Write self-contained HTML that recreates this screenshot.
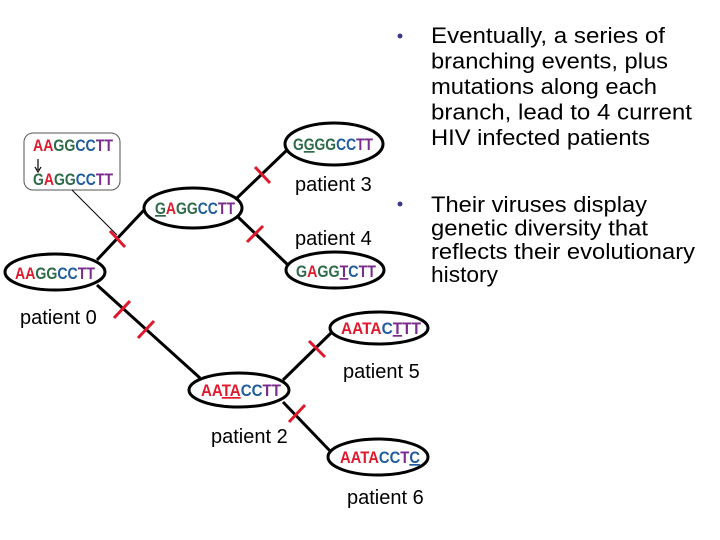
<!DOCTYPE html>
<html><head><meta charset="utf-8"><style>
html,body{margin:0;padding:0;background:#fff;}
svg{display:block;}
.seq{font-family:"Liberation Sans",sans-serif;font-size:17px;font-weight:bold;}
.A{fill:#e0182c}.G{fill:#2d6a48}.C{fill:#1f5d9e}.T{fill:#7a2b8c}
.lbl{font-family:"Liberation Sans",sans-serif;font-size:20px;fill:#000;}
.b{font-family:"Liberation Sans",sans-serif;font-size:22.5px;fill:#000;}
</style></head><body>
<svg width="720" height="540" viewBox="0 0 720 540" xmlns="http://www.w3.org/2000/svg">
<g stroke="#000" stroke-width="3" fill="none">
<line x1="97" y1="260" x2="145" y2="209"/>
<line x1="97" y1="285" x2="200" y2="378"/>
<line x1="237" y1="198" x2="287" y2="150"/>
<line x1="238" y1="217" x2="288" y2="265"/>
<line x1="283" y1="380" x2="332" y2="332"/>
<line x1="283" y1="402" x2="332" y2="453"/>
</g>
<g stroke="#000" stroke-width="3" fill="#fff">
<ellipse cx="55" cy="272" rx="50" ry="18"/>
<ellipse cx="193" cy="208" rx="49" ry="20"/>
<ellipse cx="334" cy="144" rx="49" ry="21"/>
<ellipse cx="335" cy="270" rx="49" ry="18"/>
<ellipse cx="379" cy="328" rx="49" ry="16"/>
<ellipse cx="239" cy="390" rx="50" ry="17"/>
<ellipse cx="378" cy="457" rx="50" ry="18"/>
</g>
<rect x="24" y="133" width="96" height="57" rx="9" fill="#fff" stroke="#555" stroke-width="1"/>
<line x1="72" y1="190" x2="117" y2="235" stroke="#000" stroke-width="1"/>
<line x1="38" y1="159" x2="38" y2="170" stroke="#000" stroke-width="1.2"/>
<path d="M35,167 L38,172 L41,167" fill="none" stroke="#000" stroke-width="1.2"/>
<g stroke="#e0182c" stroke-width="3">
<line x1="110" y1="231" x2="125" y2="247"/>
<line x1="255" y1="167" x2="270" y2="183"/>
<line x1="247" y1="242" x2="263" y2="226"/>
<line x1="114" y1="318" x2="130" y2="301"/>
<line x1="138" y1="338" x2="154" y2="321"/>
<line x1="309" y1="341" x2="325" y2="357"/>
<line x1="289" y1="422" x2="305" y2="405"/>
</g>
<g class="seq">
<text x="33" y="151" textLength="80" lengthAdjust="spacingAndGlyphs"><tspan class="A">AA</tspan><tspan class="G">GG</tspan><tspan class="C">CC</tspan><tspan class="T">TT</tspan></text>
<text x="33" y="185" textLength="80" lengthAdjust="spacingAndGlyphs"><tspan class="G">G</tspan><tspan class="A">A</tspan><tspan class="G">GG</tspan><tspan class="C">CC</tspan><tspan class="T">TT</tspan></text>
<text x="15" y="279" textLength="80" lengthAdjust="spacingAndGlyphs"><tspan class="A">AA</tspan><tspan class="G">GG</tspan><tspan class="C">CC</tspan><tspan class="T">TT</tspan></text>
<text x="155" y="214" textLength="80" lengthAdjust="spacingAndGlyphs"><tspan class="G" text-decoration="underline">G</tspan><tspan class="A">A</tspan><tspan class="G">GG</tspan><tspan class="C">CC</tspan><tspan class="T">TT</tspan></text>
<text x="293" y="150" textLength="80" lengthAdjust="spacingAndGlyphs"><tspan class="G">G</tspan><tspan class="G" text-decoration="underline">G</tspan><tspan class="G">GG</tspan><tspan class="C">CC</tspan><tspan class="T">TT</tspan></text>
<text x="296" y="277" textLength="80" lengthAdjust="spacingAndGlyphs"><tspan class="G">G</tspan><tspan class="A">A</tspan><tspan class="G">GG</tspan><tspan class="T" text-decoration="underline">T</tspan><tspan class="C">C</tspan><tspan class="T">TT</tspan></text>
<text x="341" y="334" textLength="80" lengthAdjust="spacingAndGlyphs"><tspan class="A">AATA</tspan><tspan class="C">C</tspan><tspan class="T" text-decoration="underline">T</tspan><tspan class="T">TT</tspan></text>
<text x="201" y="396" textLength="80" lengthAdjust="spacingAndGlyphs"><tspan class="A">AA</tspan><tspan class="A" text-decoration="underline">TA</tspan><tspan class="C">CC</tspan><tspan class="T">TT</tspan></text>
<text x="340" y="463" textLength="80" lengthAdjust="spacingAndGlyphs"><tspan class="A">AATA</tspan><tspan class="C">CC</tspan><tspan class="T">T</tspan><tspan class="C" text-decoration="underline">C</tspan></text>
</g>
<g class="lbl">
<text x="295" y="191">patient 3</text>
<text x="295" y="245">patient 4</text>
<text x="20" y="324">patient 0</text>
<text x="343" y="378">patient 5</text>
<text x="211" y="443">patient 2</text>
<text x="347" y="504">patient 6</text>
</g>
<circle cx="400" cy="36" r="2.5" fill="#3a3a8c"/>
<circle cx="400" cy="204" r="2.5" fill="#3a3a8c"/>
<g class="b">
<text x="431" y="43" textLength="234" lengthAdjust="spacingAndGlyphs">Eventually, a series of</text>
<text x="431" y="68.5" textLength="237" lengthAdjust="spacingAndGlyphs">branching events, plus</text>
<text x="431" y="94" textLength="226" lengthAdjust="spacingAndGlyphs">mutations along each</text>
<text x="431" y="119.5" textLength="261" lengthAdjust="spacingAndGlyphs">branch, lead to 4 current</text>
<text x="431" y="145" textLength="219" lengthAdjust="spacingAndGlyphs">HIV infected patients</text>
<text x="431" y="212" textLength="216" lengthAdjust="spacingAndGlyphs">Their viruses display</text>
<text x="431" y="235.5" textLength="217" lengthAdjust="spacingAndGlyphs">genetic diversity that</text>
<text x="431" y="259" textLength="264" lengthAdjust="spacingAndGlyphs">reflects their evolutionary</text>
<text x="431" y="282" textLength="67" lengthAdjust="spacingAndGlyphs">history</text>
</g>
</svg>
</body></html>
